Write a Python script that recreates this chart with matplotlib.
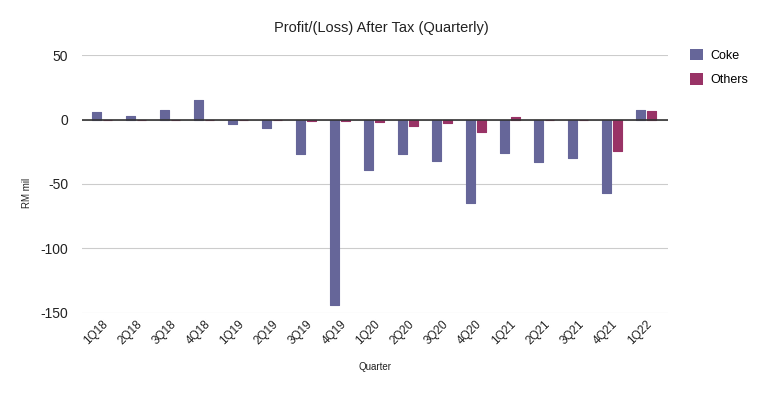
import matplotlib
matplotlib.use("Agg")
import matplotlib.pyplot as plt
import numpy as np
from matplotlib.patches import Patch

plt.rcParams['font.family'] = ['Liberation Sans', 'DejaVu Sans']

quarters = ["1Q18", "2Q18", "3Q18", "4Q18", "1Q19", "2Q19", "3Q19", "4Q19", "1Q20",
            "2Q20", "3Q20", "4Q20", "1Q21", "2Q21", "3Q21", "4Q21", "1Q22"]
coke = [5.5, 3, 7, 15, -3.5, -6.5, -26.5, -143.5, -39, -26.5, -32, -64.5, -26, -33, -29.5, -57, 7]
others = [-0.4, -0.3, -0.3, -0.4, -0.5, -0.5, -1, -1, -1.8, -5, -2.5, -10, 1.8, -0.2, -0.2, -24.5, 6.3]

coke_color = "#666699"
others_color = "#993366"

fig = plt.figure(figsize=(7.67, 3.94), dpi=100)
ax = fig.add_axes([0.107, 0.2056, 0.764, 0.6548])

x = np.arange(len(quarters))
w = 0.25
off = 0.165
ax.bar(x - off, coke, width=w, color=coke_color, edgecolor=coke_color, linewidth=0.8,
       joinstyle='round', zorder=3)
ax.bar(x + off, others, width=w, color=others_color, edgecolor=others_color, linewidth=0.8,
       joinstyle='round', zorder=3)

ax.set_xlim(-0.59, 16.65)
ax.set_ylim(-150, 50)
ax.set_yticks([50, 0, -50, -100, -150])
ax.set_yticklabels(["50", "0", "-50", "-100", "-150"], fontsize=10, color="#222222")
ax.yaxis.grid(True, color="#cccccc", linewidth=0.8, zorder=0)
ax.axhline(0, color="#333333", linewidth=1.2, zorder=4)
for s in ax.spines.values():
    s.set_visible(False)
ax.tick_params(axis='both', length=0)
ax.tick_params(axis='y', pad=10)

ax.set_xticks(x)
ax.set_xticklabels(quarters, rotation=45, ha='right', rotation_mode='anchor', fontsize=8.5,
                   color="#222222")

ax.set_xlabel("Quarter", fontsize=7, color="#222222")
ax.xaxis.set_label_coords(0.5, -0.19)
ax.set_ylabel("RM mil", fontsize=7, color="#222222")
ax.yaxis.set_label_coords(-0.085, 0.465)

fig.text(0.497, 0.928, "Profit/(Loss) After Tax (Quarterly)", ha='center', va='center',
         fontsize=10.5, color="#222222")

handles = [Patch(facecolor=coke_color, edgecolor='none'),
           Patch(facecolor=others_color, edgecolor='none')]
fig.legend(handles, ["Coke", "Others"], loc='upper left', bbox_to_anchor=(0.885, 0.905),
           frameon=False, fontsize=9, handlelength=1.0, handleheight=1.0,
           handletextpad=0.6, labelspacing=0.95)

fig.savefig("out.png", dpi=100)
